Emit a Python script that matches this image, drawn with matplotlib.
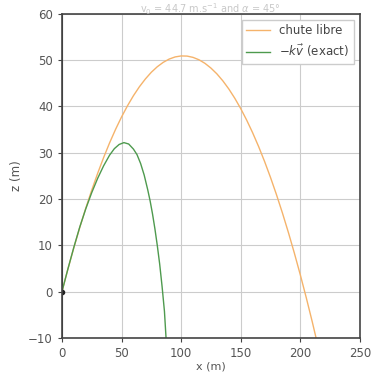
import matplotlib
matplotlib.use('Agg')
import matplotlib.pyplot as plt

# trajectoire sans frottement (chute libre)
x_libre = [0, 5, 10, 15, 20, 25, 30, 35, 40, 45, 50, 55, 60, 65, 70, 75, 80,
           85, 90, 95, 100, 105, 110, 115, 120, 125, 130, 135, 140, 145, 150,
           155, 160, 165, 170, 175, 180, 185, 190, 195, 200, 205, 210, 213.5]
z_libre = [0, 4.88, 9.51, 13.9, 18.04, 21.93, 25.58, 28.99, 32.15, 35.06,
           37.73, 40.15, 42.33, 44.26, 45.94, 47.39, 48.58, 49.53, 50.24,
           50.7, 50.91, 50.88, 50.6, 50.08, 49.31, 48.29, 47.04, 45.53, 43.78,
           41.78, 39.54, 37.05, 34.32, 31.35, 28.13, 24.66, 20.95, 16.99,
           12.78, 8.33, 3.63, -1.31, -6.49, -10.3]

# trajectoire avec frottement -k v
x_frott = [0, 5, 10, 15, 20, 25, 30, 35, 40, 44, 48, 52, 56, 60, 63, 66, 69,
           72, 74, 76, 78, 80, 82, 84, 86, 87.4]
z_frott = [0, 4.9, 9.6, 14.0, 17.9, 21.4, 24.5, 27.2, 29.5, 30.9, 31.8, 32.2,
           31.9, 30.8, 29.6, 27.7, 25.2, 22.0, 19.6, 16.8, 13.6, 10.0, 6.0,
           1.2, -4.2, -10.2]

fig = plt.figure(figsize=(3.73, 3.74), dpi=100)
ax = fig.add_axes([0.166, 0.096, 0.799, 0.867])

ax.plot(x_libre, z_libre, color='#f5b36b', lw=1, label='chute libre')
ax.plot(x_frott, z_frott, color='#4e9a4e', lw=1, label=r'$-k\vec{v}$ (exact)')
ax.axvline(0, color='#333333', lw=1.5, zorder=1)
ax.plot([0], [0], 'o', color='#222222', ms=3)

ax.set_xlim(0, 250)
ax.set_ylim(-10, 60)
ax.set_xticks([0, 50, 100, 150, 200, 250])
ax.set_yticks([-10, 0, 10, 20, 30, 40, 50, 60])
ax.grid(color='#cccccc', lw=0.8)
ax.set_axisbelow(True)
for s in ax.spines.values():
    s.set_color('#444444')
    s.set_linewidth(1.2)
ax.tick_params(labelsize=8.5, colors='#444444', labelcolor='#555555', length=3)
ax.set_xlabel('x (m)', fontsize=8, color='#555555', labelpad=1)
ax.set_ylabel('z (m)', fontsize=8.5, color='#555555')
# titre place en haut de la figure pour rester visible
fig.text(0.565, 0.997, r'v$_0$ = 44.7 m.s$^{-1}$ and $\alpha$ = 45°',
         fontsize=7, color='#c8c8c8', ha='center', va='top')
leg = ax.legend(loc='upper right', fontsize=8.5, framealpha=1,
                edgecolor='#cccccc', fancybox=False)
for t in leg.get_texts():
    t.set_color('#444444')

fig.savefig('out.png', dpi=100)
